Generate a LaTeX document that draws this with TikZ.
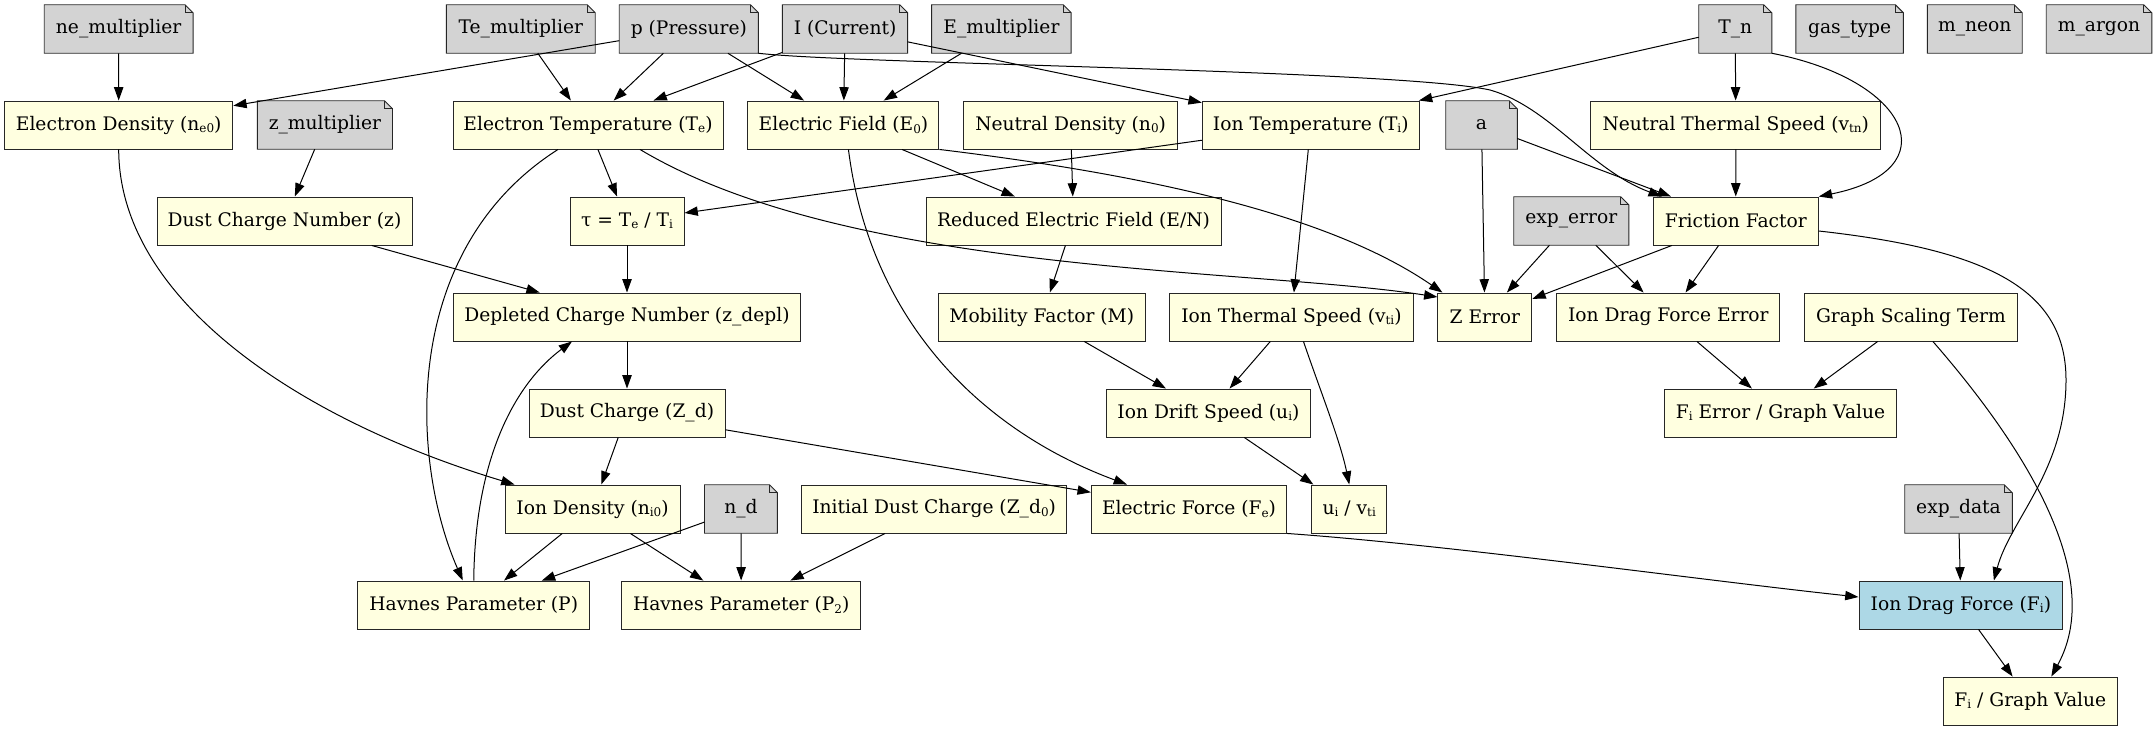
\documentclass[tikz,border=0pt]{standalone}
\usepackage{fontspec}
\setmainfont{DejaVu Serif}
\usetikzlibrary{positioning,arrows.meta}
\definecolor{pargray}{HTML}{D3D3D3}
\definecolor{calcyellow}{HTML}{FFFFE0}
\definecolor{resblue}{HTML}{ADD8E6}
\newcommand{\lowsub}[1]{\raisebox{-0.25ex}{\fontsize{9}{9}\selectfont #1}}

\begin{document}
\begin{tikzpicture}[x=0.75pt, y=-0.75pt]
	\path[use as bounding box, fill=white] (0,0) rectangle (2155,731);
	\tikzstyle{box}=[rectangle, minimum height=36pt, inner xsep=2pt, font=\fontsize{14}{16}\selectfont]
	\tikzstyle{param}=[box, fill=pargray]
	\tikzstyle{calc}=[box, fill=calcyellow, draw=black!85, line width=0.7pt]
	\tikzstyle{result}=[box, fill=resblue, draw=black!85, line width=0.7pt]

	% row 1: inputs
	\node[param, minimum width=111.2pt] (nemul) at (118.65,29) {ne\_multiplier};
	\node[param, minimum width=111.2pt] (temul) at (520.85,29) {Te\_multiplier};
	\node[param, minimum width=104pt, right=18pt of temul] (pres) {p (Pressure)};
	\node[param, minimum width=93.5pt, right=18pt of pres] (curr) {I (Current)};
	\node[param, minimum width=104.25pt, right=18pt of curr] (emul) {E\_multiplier};
	\node[param, minimum width=54.4pt] (tn) at (1735.25,29) {T\_n};
	\node[param, minimum width=80.25pt, right=18pt of tn] (gas) {gas\_type};
	\node[param, minimum width=70.8pt, right=18pt of gas] (mne) {m\_neon};
	\node[param, minimum width=78.75pt, right=18pt of mne] (mar) {m\_argon};

	% row 2
	\node[calc, minimum width=171.2pt] (ne) at (118.7,125) {Electron Density (n\lowsub{e0})};
	\node[param, minimum width=101pt, right=18pt of ne] (zmul) {z\_multiplier};
	\node[calc, minimum width=202.5pt] (te) at (588,125) {Electron Temperature (T\lowsub{e})};
	\node[calc, minimum width=143.25pt, right=18pt of te] (efield) {Electric Field (E\lowsub{0})};
	\node[calc, minimum width=160.1pt, right=18pt of efield] (nn) {Neutral Density (n\lowsub{0})};
	\node[calc, minimum width=162.75pt, right=18pt of nn] (ti) {Ion Temperature (T\lowsub{i})};
	\node[param, minimum width=53.25pt, right=19.5pt of ti] (arad) {a};
	\node[calc, minimum width=217.5pt] (vtn) at (1735.75,125) {Neutral Thermal Speed (v\lowsub{tn})};

	% row 3
	\node[calc, minimum width=191.25pt] (z) at (284.5,221) {Dust Charge Number (z)};
	\node[calc, minimum width=85.5pt] (tau) at (627,221) {τ = T\lowsub{e} / T\lowsub{i}};
	\node[calc, minimum width=221.25pt] (en) at (1073.5,221) {Reduced Electric Field (E/N)};
	\node[param, minimum width=85.9pt] (experr) at (1571.25,221) {exp\_error};
	\node[calc, minimum width=123.75pt, right=18pt of experr] (fric) {Friction Factor};

	% row 4
	\node[calc, minimum width=260pt] (zdepl) at (627,317) {Depleted Charge Number (z\_depl)};
	\node[calc, minimum width=154.9pt] (mob) at (1041.75,317) {Mobility Factor (M)};
	\node[calc, minimum width=182.25pt, right=18pt of mob] (vti) {Ion Thermal Speed (v\lowsub{ti})};
	\node[calc, minimum width=70.5pt, right=18pt of vti] (zerr) {Z Error};
	\node[calc, minimum width=167.25pt, right=18pt of zerr] (dferr) {Ion Drag Force Error};
	\node[calc, minimum width=159.2pt, right=18pt of dferr] (gst) {Graph Scaling Term};

	% row 5
	\node[calc, minimum width=147pt] (zd) at (627,413) {Dust Charge (Z\_d)};
	\node[calc, minimum width=153.6pt] (ui) at (1208.4,413) {Ion Drift Speed (u\lowsub{i})};
	\node[calc, minimum width=174pt] (fierr) at (1780.5,413) {F\lowsub{i} Error / Graph Value};

	% row 6
	\node[calc, minimum width=131.25pt] (ni) at (592.5,509) {Ion Density (n\lowsub{i0})};
	\node[param, minimum width=54.3pt, right=18pt of ni] (nd) {n\_d};
	\node[calc, minimum width=198.4pt, right=18pt of nd] (zdzero) {Initial Dust Charge (Z\_d\lowsub{0})};
	\node[calc, minimum width=146.5pt, right=18pt of zdzero] (fe) {Electric Force (F\lowsub{e})};
	\node[calc, minimum width=56.5pt, right=18pt of fe] (uv) {u\lowsub{i} / v\lowsub{ti}};
	\node[param, minimum width=80.25pt] (expdata) at (1958.5,509) {exp\_data};

	% row 7 and 8
	\node[calc, minimum width=174pt] (hp) at (473.75,605) {Havnes Parameter (P)};
	\node[calc, minimum width=179.25pt, right=23.25pt of hp] (hptwo) {Havnes Parameter (P\lowsub{2})};
	\node[result, minimum width=152.8pt] (fi) at (1960.85,605) {Ion Drag Force (F\lowsub{i})};
	\node[calc, minimum width=131pt] (figv) at (2030.3,701) {F\lowsub{i} / Graph Value};

	% note outlines for the inputs
	\foreach \n in {nemul,temul,pres,curr,emul,tn,gas,mne,mar,zmul,arad,experr,nd,expdata} {
		\fill[white] ([shift={(-8,0)}]\n.north east) -- (\n.north east) -- ([shift={(0,8)}]\n.north east) -- cycle;
		\draw[line width=0.7pt, draw=black!85] (\n.south west) -- (\n.south east) -- ([shift={(0,8)}]\n.north east)
			-- ([shift={(-8,0)}]\n.north east) -- (\n.north west) -- cycle;
		\draw[line width=0.7pt, draw=black!85] ([shift={(-8,0)}]\n.north east) -- ([shift={(-8,8)}]\n.north east) -- ([shift={(0,8)}]\n.north east);
	}

	\begin{scope}[-{Triangle[length=10pt, width=7pt]}, line width=0.75pt]
		\draw (nemul) -- (ne);
		\draw (pres) -- (ne);
		\draw (temul) -- (te);
		\draw (pres) -- (te);
		\draw (curr) -- (te);
		\draw (pres) -- (efield);
		\draw (curr) -- (efield);
		\draw (emul) -- (efield);
		\draw (curr) -- (ti);
		\draw (tn) -- (ti);
		\draw (tn) -- (vtn);
		\draw (arad) -- (fric);
		\draw (vtn) -- (fric);
		\draw (zmul) -- (z);
		\draw (te) -- (tau);
		\draw (ti) -- (tau);
		\draw (efield) -- (en);
		\draw (nn) -- (en);
		\draw (arad) -- (zerr);
		\draw (experr) -- (zerr);
		\draw (fric) -- (zerr);
		\draw (experr) -- (dferr);
		\draw (fric) -- (dferr);
		\draw (z) -- (zdepl);
		\draw (tau) -- (zdepl);
		\draw (zdepl) -- (zd);
		\draw (zd) -- (ni);
		\draw (zd) -- (fe);
		\draw (en) -- (mob);
		\draw (mob) -- (ui);
		\draw (ti) -- (vti);
		\draw (vti) -- (ui);
		\draw (ui) -- (uv);
		\draw (ni) -- (hp);
		\draw (ni) -- (hptwo);
		\draw (nd) -- (hp);
		\draw (nd) -- (hptwo);
		\draw (zdzero) -- (hptwo);
		\draw (expdata) -- (fi);
		\draw (dferr) -- (fierr);
		\draw (gst) -- (fierr);
		\draw (fi) -- (figv);
		% curved ones
		\draw (pres.south east) .. controls (850,64) and (1400,70) .. (1490,90)
			.. controls (1550,107) and (1590,170) .. ([shift={(9,0)}]fric.north west);
		\draw (tn.south east) .. controls (1910,80) and (1950,170) .. (fric.north east);
		\draw ([shift={(52,0)}]te.south) .. controls (850,275) and (1250,268) .. ([shift={(0,-20)}]zerr.west);
		\draw (efield.south east) .. controls (1150,175) and (1330,215) .. ([shift={(5,0)}]zerr.north west);
		\draw ([shift={(0,10)}]fric.east) .. controls (1990,250) and (2066,290) .. (2066,380)
			.. controls (2066,470) and (2010,520) .. ([shift={(33,0)}]fi.north);
		\draw (ne.south) .. controls (119,300) and (300,420) .. ([shift={(10,0)}]ni.north west);
		\draw ([shift={(-30,0)}]te.south) .. controls (400,250) and (410,460) .. ([shift={(-11,0)}]hp.north);
		\draw (hp.north) .. controls (475,450) and (520,380) .. ([shift={(-55,0)}]zdepl.south);
		\draw ([shift={(5,0)}]efield.south) .. controls (870,320) and (980,430) .. ([shift={(-62,0)}]fe.north);
		\draw ([shift={(12,0)}]vti.south) .. controls (1320,390) and (1340,440) .. (uv.north);
		\draw (fe.south east) .. controls (1450,545) and (1700,580) .. ([shift={(0,-8)}]fi.west);
		\draw ([shift={(22,0)}]gst.south) .. controls (2010,430) and (2110,570) .. ([shift={(21,0)}]figv.north);
	\end{scope}
\end{tikzpicture}
\end{document}
